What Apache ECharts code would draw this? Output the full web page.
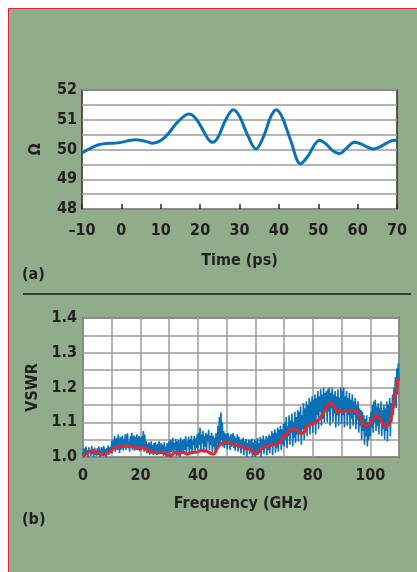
<!DOCTYPE html>
<html><head><meta charset="utf-8">
<script src="https://cdn.jsdelivr.net/npm/echarts@6/dist/echarts.min.js"></script>
<style>
html,body{margin:0;padding:0;background:#fff;width:417px;height:572px;overflow:hidden}
#panel{position:absolute;left:8px;top:8px;right:0;bottom:0;background:#91ac8a;border-top:1.5px solid #e0262c;border-left:1.5px solid #e0262c}
#chart{position:absolute;left:0;top:0;width:417px;height:572px}
</style></head><body>
<div id="panel"></div><div id="chart"></div>
<script>
// ---- Panel (a): impedance vs time ----
const timePs = [-10,-8,-6,-4,-2,0,2,3.5,6,8,10,12,14,16,17.2,18.5,20,22,23.2,24.5,26.5,28.4,30,32,34.2,36,38,39.3,40.8,43,45.5,47.5,49,50.3,52,53.8,55.4,57,59.2,61,62.5,63.9,65.5,67.5,69.2,70];
const impedanceOhm = [49.88,50.03,50.15,50.2,50.21,50.24,50.3,50.33,50.28,50.21,50.3,50.55,50.88,51.13,51.19,51.1,50.82,50.36,50.24,50.4,51.0,51.34,51.12,50.5,50.02,50.4,51.12,51.34,51.1,50.3,49.52,49.8,50.15,50.31,50.18,49.95,49.86,50.02,50.24,50.18,50.08,50.02,50.08,50.22,50.31,50.3];
const timeTicks = [-10,0,10,20,30,40,50,60,70];
const ohmTicks = [48,49,50,51,52];

// ---- Panel (b): VSWR vs frequency (measured every 0.25 GHz from 0 GHz) ----
const vswrStartGHz = 0;
const vswrStepGHz = 0.25;
const vswrMeasured = [
 1.015,1.00,1.025,1.01,1.03,1.005,1.02,1.0,1.028,1.012,1.018,1.003,1.032,1.008,1.022,1.0,1.027,1.01,1.015,1.004,
 1.025,1.006,1.03,1.012,1.0,1.02,1.028,1.005,1.017,1.031,1.008,1.022,1.0,1.026,1.012,1.033,1.005,1.02,1.03,1.01,
 1.045,1.012,1.05,1.025,1.06,1.015,1.04,1.055,1.02,1.065,1.03,1.012,1.058,1.022,1.048,1.062,1.018,1.052,1.028,1.066,
 1.02,1.055,1.068,1.025,1.045,1.015,1.06,1.035,1.07,1.02,1.05,1.062,1.018,1.058,1.03,1.065,1.022,1.048,1.06,1.016,
 1.055,1.02,1.06,1.03,1.075,1.015,1.065,1.02,1.045,1.01,1.038,1.015,1.042,1.006,1.03,1.045,1.01,1.035,1.005,1.04,
 1.012,1.042,1.02,1.005,1.038,1.015,1.045,1.008,1.03,1.04,1.01,1.035,1.004,1.042,1.018,1.03,1.0,1.04,1.012,1.028,
 1.045,1.0,1.05,1.015,1.03,1.055,1.005,1.04,1.02,1.052,1.003,1.045,1.012,1.05,1.025,1.0,1.055,1.01,1.04,1.048,
 1.01,1.052,1.02,1.06,1.005,1.045,1.03,1.058,1.012,1.05,1.022,1.062,1.008,1.048,1.035,1.06,1.015,1.055,1.025,1.065,
 1.02,1.07,1.035,1.085,1.015,1.065,1.04,1.075,1.012,1.06,1.03,1.07,1.018,1.065,1.045,1.078,1.02,1.06,1.035,1.07,
 1.015,1.062,1.03,1.055,1.01,1.068,1.025,1.05,1.09,1.03,1.115,1.04,1.128,1.05,1.1,1.03,1.075,1.025,1.068,1.035,
 1.065,1.022,1.07,1.035,1.058,1.02,1.066,1.03,1.05,1.068,1.025,1.06,1.018,1.055,1.04,1.065,1.015,1.058,1.03,1.05,
 1.01,1.05,1.025,1.055,1.005,1.045,1.02,1.052,1.0,1.04,1.03,1.05,1.008,1.048,1.018,1.053,1.0,1.042,1.012,1.05,
 1.0,1.045,1.015,1.055,1.005,1.04,1.025,1.058,1.0,1.05,1.02,1.062,1.008,1.048,1.03,1.06,1.005,1.055,1.02,1.065,
 1.01,1.06,1.03,1.075,1.005,1.068,1.04,1.08,1.012,1.07,1.025,1.085,1.015,1.078,1.045,1.09,1.02,1.08,1.035,1.095,
 1.03,1.1,1.05,1.115,1.025,1.09,1.06,1.12,1.035,1.105,1.07,1.125,1.03,1.1,1.055,1.13,1.04,1.115,1.065,1.135,
 1.045,1.13,1.07,1.145,1.035,1.12,1.08,1.155,1.05,1.14,1.09,1.16,1.06,1.15,1.085,1.17,1.065,1.16,1.095,1.175,
 1.07,1.165,1.1,1.18,1.065,1.17,1.12,1.19,1.08,1.175,1.13,1.195,1.09,1.18,1.11,1.2,1.1,1.185,1.14,1.19,
 1.1,1.195,1.13,1.2,1.09,1.185,1.14,1.2,1.1,1.18,1.125,1.19,1.085,1.175,1.12,1.195,1.09,1.17,1.13,1.2,
 1.095,1.19,1.12,1.2,1.085,1.175,1.135,1.19,1.09,1.17,1.12,1.185,1.08,1.165,1.11,1.18,1.09,1.16,1.12,1.17,
 1.08,1.15,1.105,1.16,1.07,1.14,1.09,1.135,1.05,1.13,1.075,1.12,1.035,1.11,1.06,1.12,1.03,1.1,1.05,1.115,
 1.06,1.13,1.085,1.15,1.07,1.16,1.1,1.165,1.075,1.145,1.09,1.155,1.065,1.14,1.1,1.16,1.06,1.135,1.08,1.15,
 1.05,1.14,1.075,1.16,1.045,1.15,1.09,1.17,1.06,1.155,1.1,1.18,1.12,1.2,1.15,1.23,1.14,1.255,1.18,1.27,
 1.22
];
const smoothFreqGHz = [0,2,4.3,6,7.2,8.9,11.2,13.6,17.6,18.8,21,22.8,25.7,28,30.4,32.1,33.3,34.8,36.2,37.9,39.6,41.4,43.1,45.4,47.2,49.5,52.4,54.7,57,58.7,59.9,61.1,62.8,64.5,65.7,67.4,69.8,72.1,73.8,75.6,76.7,77.9,80.2,81.9,83.7,86,87.1,88.9,91.8,94.7,96.4,98.2,99.9,102.2,103.9,105.1,106.8,108.6,109.7];
const smoothVswr = [1.002,1.014,1.017,1.01,1.007,1.014,1.027,1.031,1.031,1.024,1.027,1.016,1.013,1.012,1.003,1.013,1.008,1.014,1.008,1.013,1.014,1.019,1.016,1.008,1.031,1.043,1.037,1.029,1.027,1.017,1.008,1.014,1.029,1.029,1.037,1.037,1.058,1.077,1.082,1.069,1.069,1.089,1.096,1.106,1.127,1.156,1.149,1.13,1.133,1.133,1.116,1.089,1.096,1.12,1.101,1.089,1.101,1.173,1.226];
const freqTicks = [0,20,40,60,80,100];
const vswrTicks = [1.0,1.1,1.2,1.3,1.4];

const FONT = '"DejaVu Sans Condensed","Liberation Sans Narrow",sans-serif';
const TEXT = '#231f20';
const BLUE = '#0a70b8';
const RED = '#e5262b';
const lbl = (extra) => Object.assign({color:TEXT,fontFamily:FONT,fontWeight:'bold',fontSize:16}, extra);

const zData = timePs.map((t,i)=>[t,impedanceOhm[i]]);
const vData = vswrMeasured.map((v,i)=>[vswrStartGHz + i*vswrStepGHz, v]);
const sData = smoothFreqGHz.map((f,i)=>[f,smoothVswr[i]]);

const chart = echarts.init(document.getElementById('chart'), null, {renderer:'canvas'});
chart.setOption({
  animation:false,
  backgroundColor:'transparent',
  textStyle:{fontFamily:FONT},
  grid:[
    {left:82,top:90,width:315,height:119,show:true,backgroundColor:'#fff',borderColor:'#2b2b2b',borderWidth:1.5},
    {left:83,top:318,width:316,height:139,show:true,backgroundColor:'#fff',borderColor:'#2b2b2b',borderWidth:1.5}
  ],
  xAxis:[
    {gridIndex:0,type:'value',min:-10,max:70,interval:10,
     axisLine:{show:false},
     axisTick:{show:true,inside:true,length:5,lineStyle:{color:'#2b2b2b',width:1.5}},
     splitLine:{show:false},
     axisLabel:lbl({margin:14,formatter:v=>timeTicks.includes(v)?(v<0?'\u2013'+Math.abs(v):String(v)):''}),
     name:'Time (ps)',nameLocation:'middle',nameGap:44,nameTextStyle:lbl({})},
    {gridIndex:1,type:'value',min:0,max:110,interval:10,
     axisLine:{show:false},axisTick:{show:false},
     splitLine:{show:true,lineStyle:{color:'#9b9b9b',width:1.5}},
     axisLabel:lbl({margin:11,formatter:v=>freqTicks.includes(v)?String(v):''}),
     name:'Frequency (GHz)',nameLocation:'middle',nameGap:39,nameTextStyle:lbl({})}
  ],
  yAxis:[
    {gridIndex:0,type:'value',min:48,max:52,interval:0.5,
     axisLine:{show:false},axisTick:{show:false},
     splitLine:{show:true,lineStyle:{color:'#9b9b9b',width:1.5}},
     axisLabel:lbl({margin:5,formatter:v=>ohmTicks.includes(v)?String(v):''}),
     name:'\u03A9',nameLocation:'middle',nameRotate:90,nameGap:38,nameTextStyle:lbl({})},
    {gridIndex:1,type:'value',min:1.0,max:1.4,interval:0.05,
     axisLine:{show:false},axisTick:{show:false},
     splitLine:{show:true,lineStyle:{color:'#9b9b9b',width:1.5}},
     axisLabel:lbl({margin:6,formatter:v=>vswrTicks.some(t=>Math.abs(t-v)<1e-6)?v.toFixed(1):''}),
     name:'VSWR',nameLocation:'middle',nameRotate:90,nameGap:37,nameTextStyle:lbl({})}
  ],
  series:[
    {type:'line',xAxisIndex:0,yAxisIndex:0,data:zData,smooth:0.35,showSymbol:false,
     lineStyle:{color:BLUE,width:3},z:3},
    {type:'line',xAxisIndex:1,yAxisIndex:1,data:vData,showSymbol:false,
     lineStyle:{color:BLUE,width:1.6},z:3},
    {type:'line',xAxisIndex:1,yAxisIndex:1,data:sData,smooth:0.4,showSymbol:false,
     lineStyle:{color:RED,width:3},z:4}
  ],
  graphic:[
    {type:'line',shape:{x1:23,y1:294,x2:411,y2:294},style:{stroke:'#3a3a3a',lineWidth:2}},
    {type:'text',left:22,top:267,style:{text:'(a)',fill:TEXT,font:'bold 16px '+FONT}},
    {type:'text',left:22,top:512,style:{text:'(b)',fill:TEXT,font:'bold 16px '+FONT}}
  ]
});
</script></body></html>
